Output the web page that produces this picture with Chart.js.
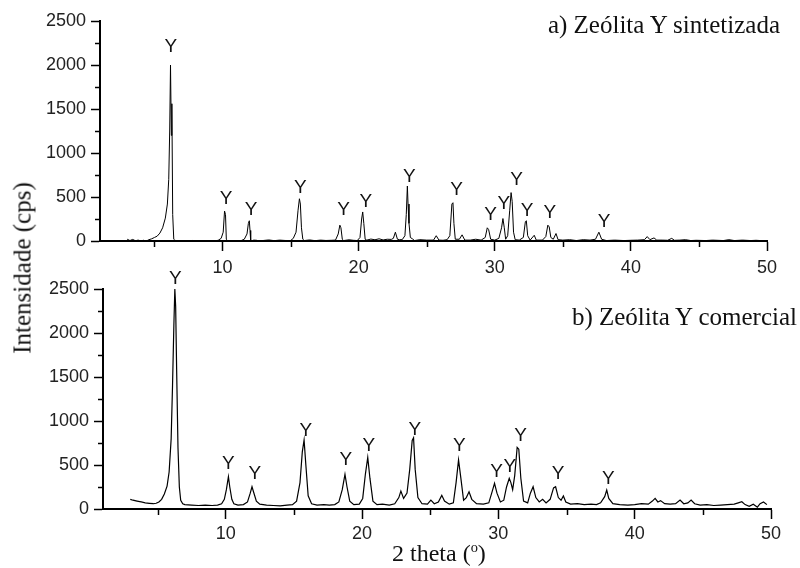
<!DOCTYPE html>
<html>
<head>
<meta charset="utf-8">
<script src="https://cdn.jsdelivr.net/npm/chart.js@4/dist/chart.umd.min.js"></script>
<style>
  html, body { margin: 0; padding: 0; background: #fff; }
  #wrap { position: relative; width: 800px; height: 568px; overflow: hidden; }
  .pane { position: absolute; left: 0; width: 800px; }
  .txt { position: absolute; font-family: "Liberation Serif", "Times New Roman", serif; color: #111; white-space: nowrap; line-height: 1; }
  sup { font-size: 60%; vertical-align: 0.6em; line-height: 0; }
</style>
</head>
<body>
<div id="wrap">
  <div class="pane" style="top:0;height:290px"><canvas id="cA" width="800" height="290"></canvas></div>
  <div class="pane" style="top:268px;height:300px"><canvas id="cB" width="800" height="300"></canvas></div>
  <div class="txt" id="tA" style="font-size:25px; right:20px; top:12px;">a) Zeólita Y sintetizada</div>
  <div class="txt" id="tB" style="font-size:25px; right:3px; top:304px;">b) Zeólita Y comercial</div>
  <div class="txt" id="tX" style="font-size:24px; left:392px; top:541px;">2 theta (<sup>o</sup>)</div>
  <div class="txt" id="tY" style="font-size:25px; left:22px; top:268px; transform: translate(-50%,-50%) rotate(-90deg);">Intensidade (cps)</div>
</div>
<script>
// ---------- data: panel a) Zeólita Y sintetizada ----------
const thetaA = [3.0,3.2,3.4,3.6,3.8,4.0,4.2,4.4,4.6,4.8,5.0,5.2,5.4,5.6,5.8,5.95,6.05,6.12,6.18,6.24,6.28,6.34,6.42,6.5,6.7,6.9,7.3,7.8,8.3,8.8,9.2,9.5,9.7,9.9,10.05,10.15,10.22,10.28,10.4,10.8,11.3,11.6,11.8,11.9,11.97,12.02,12.07,12.3,12.5,12.6,13.0,13.4,13.8,14.2,14.6,15.0,15.2,15.4,15.55,15.65,15.72,15.8,15.9,16.0,16.4,16.8,17.2,17.6,18.0,18.3,18.5,18.62,18.7,18.8,18.9,19.3,19.6,19.9,20.1,20.22,20.3,20.38,20.48,20.6,20.9,21.2,21.5,21.8,22.1,22.4,22.55,22.7,22.85,23.0,23.2,23.4,23.5,23.58,23.63,23.7,23.8,23.95,24.1,24.5,25.0,25.5,25.7,25.9,26.2,26.5,26.7,26.85,26.93,27.0,27.1,27.4,27.6,27.8,28.2,28.6,29.0,29.3,29.45,29.55,29.7,30.0,30.3,30.5,30.6,30.7,30.8,30.95,31.1,31.2,31.28,31.38,31.5,31.8,32.1,32.25,32.32,32.42,32.6,32.9,33.05,33.5,33.75,33.9,34.0,34.12,34.3,34.5,34.65,35.0,35.5,36.0,36.5,37.0,37.4,37.65,37.85,38.2,38.8,39.5,40.0,40.5,41.0,41.2,41.4,41.7,41.9,42.3,42.7,43.0,43.2,43.6,44.0,44.4,44.8,45.5,46.0,46.8,47.2,47.6,48.2,48.8,49.2,49.5];
const cpsA   = [20,5,18,3,10,2,8,0,15,25,40,55,90,150,260,420,700,1250,2000,1200,1560,300,20,8,0,5,2,6,0,4,2,0,10,30,100,340,300,20,0,4,0,20,80,200,230,120,0,10,8,0,6,12,4,10,6,5,30,100,350,480,420,150,20,5,12,4,10,6,8,10,80,180,150,20,5,14,8,5,40,250,330,200,20,10,22,14,25,12,20,18,30,100,20,15,15,60,300,625,420,200,40,25,5,15,10,10,60,10,8,15,60,420,435,200,20,20,70,10,10,20,10,40,150,130,20,10,30,150,255,150,20,60,350,550,450,100,15,10,40,220,230,60,10,65,10,10,50,180,160,40,20,85,15,10,15,5,15,10,20,100,20,5,10,5,8,10,15,50,15,35,10,10,8,30,8,10,15,5,8,5,10,5,15,5,10,5,8,5];

// ---------- data: panel b) Zeólita Y comercial ----------
const thetaB = [3.0,3.2,3.5,3.8,4.1,4.4,4.7,4.9,5.1,5.3,5.5,5.7,5.85,6.0,6.1,6.2,6.27,6.33,6.4,6.5,6.6,6.7,6.85,7.0,7.5,8.0,8.5,9.0,9.4,9.7,9.9,10.05,10.2,10.3,10.45,10.6,10.9,11.3,11.6,11.8,11.93,12.05,12.25,12.5,13.0,13.5,14.0,14.5,14.9,15.2,15.45,15.62,15.75,15.88,16.05,16.3,16.7,17.2,17.6,18.0,18.3,18.55,18.75,18.9,19.1,19.4,19.8,20.05,20.25,20.42,20.58,20.8,21.1,21.5,22.0,22.4,22.7,22.85,23.05,23.3,23.5,23.68,23.78,23.9,24.1,24.4,24.8,25.05,25.3,25.6,25.85,26.05,26.4,26.7,26.9,27.08,27.25,27.45,27.65,27.85,28.05,28.4,28.9,29.3,29.55,29.72,29.9,30.15,30.4,30.6,30.8,30.92,31.05,31.2,31.38,31.5,31.65,31.85,32.15,32.35,32.55,32.75,33.0,33.25,33.5,33.8,34.05,34.2,34.4,34.6,34.77,34.95,35.3,35.8,36.3,36.8,37.2,37.5,37.8,37.95,38.1,38.4,38.9,39.5,40.0,40.5,41.0,41.3,41.5,41.7,41.9,42.2,42.6,43.0,43.33,43.6,43.9,44.14,44.4,44.8,45.3,45.8,46.3,46.8,47.3,47.6,47.86,48.1,48.4,48.7,49.0,49.2,49.45,49.7];
const cpsB   = [110,100,90,80,70,65,60,65,80,110,170,260,420,800,1400,2100,2500,2300,1600,700,250,100,60,50,45,40,45,40,45,60,110,220,367,250,110,60,45,50,80,180,253,190,90,55,45,40,35,45,50,90,300,650,784,500,150,60,45,50,45,50,80,220,394,250,90,50,55,120,400,587,350,90,50,55,45,60,130,204,120,180,450,780,810,450,130,60,55,100,60,80,155,90,55,70,300,557,350,100,130,195,110,60,55,70,200,292,180,80,100,250,349,300,220,380,700,680,350,90,70,180,253,130,80,110,70,110,240,253,130,100,148,80,55,60,50,55,50,70,140,216,120,60,50,45,50,60,55,90,121,80,95,60,55,60,102,60,70,102,60,45,50,40,45,50,55,70,83,50,30,55,20,60,80,50];

// ---------- "Y" peak marks (position of each label) ----------
const markAx = [6.2,10.27,12.1,15.72,18.9,20.53,23.73,27.2,29.7,30.67,31.6,32.38,34.05,38.03];
const markAy = [2207,485,360,610,360,446,730,579,295,428,693,344,321,219];
const markBx = [6.31,10.2,12.13,15.87,18.81,20.5,23.88,27.13,29.87,30.85,31.64,34.38,38.07];
const markBy = [2621,511,406,890,557,716,905,716,424,481,829,398,349];

// ---------- ticks ----------
const xMajor = [10,20,30,40,50];
const xMinor = [5,15,25,35,45];
const yMajor = [0,500,1000,1500,2000,2500];
const yMinor = [250,750,1250,1750,2250];
const xMin = 1, xMax = 50, yMin = 0, yMax = 2500;

const minorAndMarks = {
  id: 'minorAndMarks',
  afterDraw(chart, args, o) {
    const ctx = chart.ctx, x = chart.scales.x, y = chart.scales.y;
    ctx.save();
    ctx.strokeStyle = '#000';
    ctx.lineWidth = 1.5;
    xMinor.forEach(v => {
      const px = Math.round(x.getPixelForValue(v)) + 0.5;
      ctx.beginPath(); ctx.moveTo(px, y.bottom); ctx.lineTo(px, y.bottom + 6); ctx.stroke();
    });
    yMinor.forEach(v => {
      const py = Math.round(y.getPixelForValue(v)) + 0.5;
      ctx.beginPath(); ctx.moveTo(x.left, py); ctx.lineTo(x.left - 5, py); ctx.stroke();
    });
    ctx.font = '19px "Liberation Sans", Arial, sans-serif';
    ctx.fillStyle = '#111';
    ctx.textAlign = 'center';
    ctx.textBaseline = 'middle';
    o.mx.forEach((v, i) => ctx.fillText('Y', x.getPixelForValue(v), y.getPixelForValue(o.my[i])));
    ctx.restore();
  }
};

function makeChart(id, xs, ys, mx, my, leftW, rightPad, canvasH, lw, xPad) {
  return new Chart(document.getElementById(id), {
    type: 'line',
    data: { datasets: [{
      data: xs.map((v, i) => ({ x: v, y: ys[i] })),
      borderColor: '#000', borderWidth: lw, pointRadius: 0, tension: 0, fill: false
    }]},
    options: {
      responsive: false, animation: false,
      layout: { padding: { left: 0, right: rightPad, top: 21, bottom: 0 } },
      plugins: { legend: { display: false }, tooltip: { enabled: false }, minorAndMarks: { mx: mx, my: my } },
      scales: {
        x: {
          type: 'linear', min: xMin, max: xMax,
          afterBuildTicks: s => { s.ticks = xMajor.map(v => ({ value: v })); },
          afterFit: s => { s.height = canvasH - 241; },
          border: { display: true, color: '#000', width: 2 },
          grid: { drawOnChartArea: false, drawTicks: true, tickLength: 10, tickColor: '#000', tickWidth: 1.5 },
          ticks: { color: '#222', padding: xPad, maxRotation: 0, callback: v => String(v), font: { family: '"Liberation Sans", Arial, sans-serif', size: 18 } }
        },
        y: {
          type: 'linear', min: yMin, max: yMax,
          afterBuildTicks: s => { s.ticks = yMajor.map(v => ({ value: v })); },
          afterFit: s => { s.width = leftW; },
          border: { display: true, color: '#000', width: 2 },
          grid: { drawOnChartArea: false, drawTicks: true, tickLength: 9, tickColor: '#000', tickWidth: 1.5 },
          ticks: { color: '#222', padding: 5, callback: v => String(v), font: { family: '"Liberation Sans", Arial, sans-serif', size: 18 } }
        }
      }
    },
    plugins: [minorAndMarks]
  });
}

makeChart('cA', thetaA, cpsA, markAx, markAy, 100, 33, 290, 1, 6);
makeChart('cB', thetaB, cpsB, markBx, markBy, 103, 29, 300, 1.2, 4);
</script>
</body>
</html>
